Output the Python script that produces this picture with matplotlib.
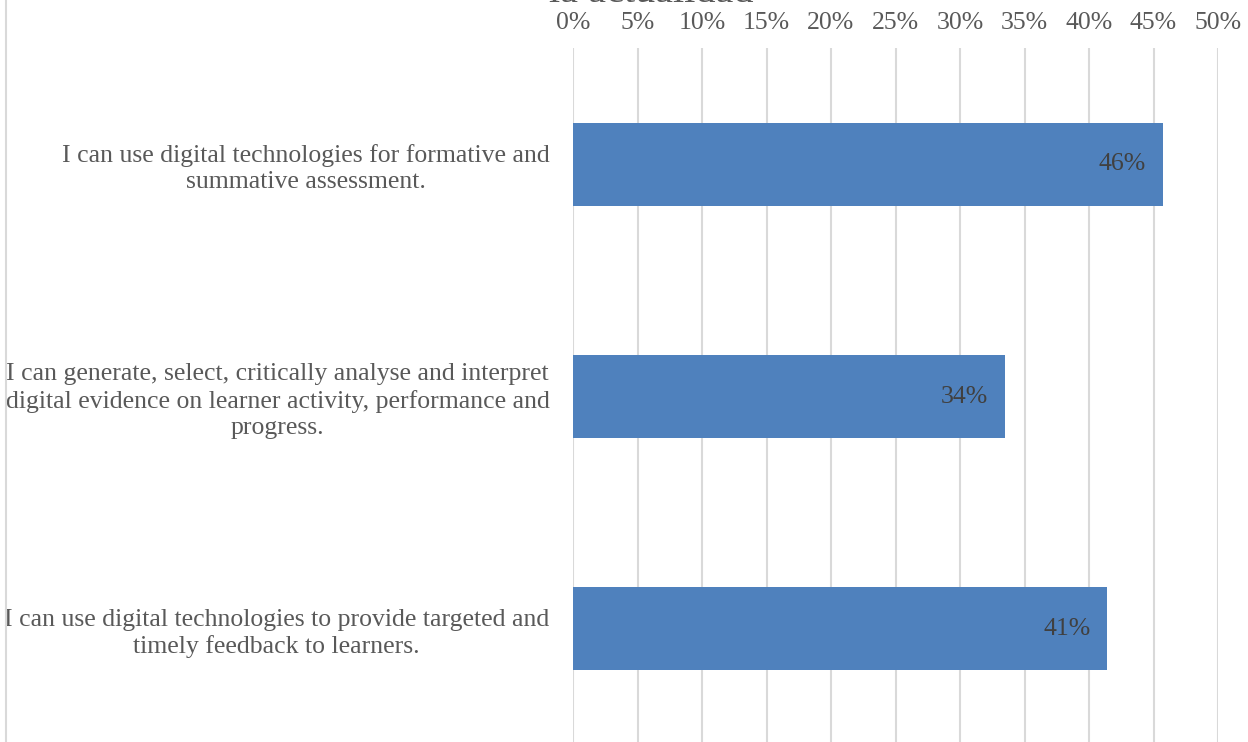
import matplotlib
matplotlib.use("Agg")
import matplotlib.pyplot as plt
from matplotlib.ticker import PercentFormatter, MultipleLocator
from matplotlib.lines import Line2D

categories = [
    "I can use digital technologies for formative and\nsummative assessment.",
    "I can generate, select, critically analyse and interpret\ndigital evidence on learner activity, performance and\nprogress.",
    "I can use digital technologies to provide targeted and\ntimely feedback to learners.",
]
values = [0.457, 0.335, 0.414]
labels = ["46%", "34%", "41%"]

plt.rcParams["font.family"] = ["Liberation Serif"]

fig = plt.figure(figsize=(12.48, 7.42), dpi=100)
ax = fig.add_axes([573 / 1248, -3 / 742, 645 / 1248, 697 / 742])

y = range(len(categories))
bars = ax.barh(y, values, height=0.357, color="#4f81bd", zorder=3)
ax.set_ylim(2.5, -0.5)
ax.set_xlim(0, 0.5)

ax.xaxis.set_major_locator(MultipleLocator(0.05))
ax.xaxis.set_major_formatter(PercentFormatter(1.0, decimals=0))
ax.xaxis.tick_top()
ax.tick_params(axis="x", length=0, pad=10, labelsize=18.5, labelcolor="#595959")
ax.set_yticks(list(y))
ax.set_yticklabels(categories, fontsize=18.5, color="#595959",
                   multialignment="center", linespacing=1.25)
ax.tick_params(axis="y", length=0, pad=17)

ax.grid(axis="x", color="#d9d9d9", linewidth=1.5, zorder=0)
for s in ax.spines.values():
    s.set_visible(False)

for b, lab in zip(bars, labels):
    ax.text(b.get_width() - 0.013, b.get_y() + b.get_height() / 2, lab,
            ha="right", va="center", fontsize=18.5, color="#404040", zorder=4)

fig.text(651 / 1248, 1 - 2 / 742, "la actualidad", ha="center", va="baseline",
         fontsize=29, color="#595959")
fig.add_artist(Line2D([6 / 1248, 6 / 1248], [0, 1], transform=fig.transFigure,
                      color="#d9d9d9", linewidth=1.5))

fig.savefig("out.png", dpi=100)
